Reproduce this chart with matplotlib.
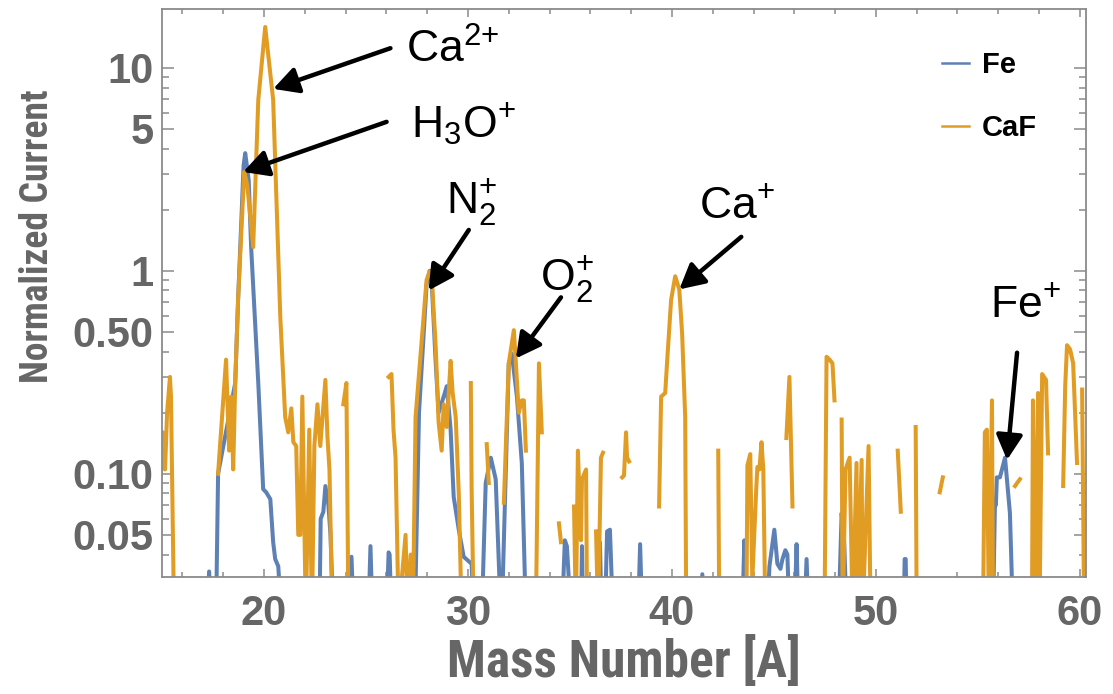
import numpy as np
import matplotlib
matplotlib.use("Agg")
import matplotlib.pyplot as plt
from matplotlib.ticker import FixedLocator, MultipleLocator, NullFormatter, LogLocator

nan = np.nan

# Fe sample trace (NaN marks gaps where the signal drops out)
fe_mass = [
    17.21, 17.31, 17.41, nan,
    17.65, 17.75, 18.59, 18.73, 19.00, 19.08, 19.25, 19.37, 19.72, 19.96, 20.11, 20.31, 20.45, 20.55, 20.70, 20.85, nan,
    22.72, 22.78, 22.91, 23.01, 23.16, 23.26, 23.40, nan,
    24.19, 24.29, 24.39, nan,
    25.12, 25.22, 25.32, nan,
    26.01, 26.11, 26.16, 26.25, nan,
    27.40, 27.60, 27.97, 28.12, 28.20, 28.42, 28.56, 28.81, 28.96, 29.15, 29.30, 29.55, 29.79, 30.18, 30.28, nan,
    30.68, 30.87, 31.12, 31.36, 31.61, nan,
    31.66, 32.00, 32.15, 32.40, 32.64, 32.84, nan,
    34.61, 34.75, 34.85, 35.05, nan,
    35.54, 35.59, 35.64, nan,
    36.38, 36.47, 36.55, nan,
    36.72, 36.82, 36.96, 37.11, nan,
    38.34, 38.44, 38.54, nan,
    41.40, 41.49, 41.60, nan,
    43.45, 43.55, 43.62, nan,
    44.68, 44.78, 45.02, 45.17, 45.32, 45.42, 45.56, 45.66, 45.76, nan,
    46.01, 46.11, 46.20, nan,
    46.50, 46.60, 46.70, nan,
    48.17, 48.32, 48.45, 48.56, nan,
    51.36, 51.41, 51.46, 51.51, nan,
    55.74, 55.84, 55.88, 55.93, 56.08, 56.33, 56.57, 56.72,
]
fe_current = [
    0.02, 0.033, 0.02, nan,
    0.02, 0.10, 0.28, 0.72, 3.3, 3.8, 2.8, 1.31, 0.28, 0.084, 0.081, 0.075, 0.046, 0.038, 0.035, 0.02, nan,
    0.02, 0.06, 0.065, 0.087, 0.07, 0.05, 0.02, nan,
    0.02, 0.039, 0.02, nan,
    0.02, 0.044, 0.02, nan,
    0.02, 0.041, 0.04, 0.02, nan,
    0.02, 0.20, 0.85, 1.0, 0.98, 0.35, 0.20, 0.24, 0.27, 0.165, 0.077, 0.053, 0.039, 0.036, 0.02, nan,
    0.02, 0.09, 0.12, 0.094, 0.02, nan,
    0.02, 0.35, 0.39, 0.24, 0.113, 0.02, nan,
    0.02, 0.047, 0.044, 0.02, nan,
    0.02, 0.044, 0.02, nan,
    0.02, 0.046, 0.02, nan,
    0.02, 0.052, 0.053, 0.02, nan,
    0.02, 0.045, 0.02, nan,
    0.02, 0.032, 0.02, nan,
    0.02, 0.047, 0.02, nan,
    0.02, 0.035, 0.053, 0.036, 0.034, 0.038, 0.042, 0.04, 0.02, nan,
    0.02, 0.045, 0.02, nan,
    0.02, 0.038, 0.02, nan,
    0.02, 0.064, 0.045, 0.02, nan,
    0.02, 0.038, 0.038, 0.02, nan,
    0.02, 0.075, 0.07, 0.096, 0.096, 0.12, 0.064, 0.02,
]

# CaF sample trace
caf_mass = [
    14.95, 15.05, 15.15, 15.25, 15.39, 15.44, 15.59, nan,
    17.75, 18.14, 18.29, 18.39, 18.49, 18.59, 18.73, 19.03, 19.18, 19.47, 19.72, 20.06, 20.45, 20.80,
    21.04, 21.19, 21.34, 21.44, 21.58, 21.68, 21.78, 21.88, 22.05, 22.22, 22.35, 22.47, 22.62, 22.76,
    23.01, 23.11, 23.21, 23.35, nan,
    23.89, 24.04, 24.14, nan,
    26.11, 26.25, 26.35, 26.45, 26.60, 26.94, 27.04, 27.19, 27.30, 27.43, 27.73, 27.97, 28.12, 28.22,
    28.42, 28.56, 28.71, 28.81, 28.96, 29.15, 29.25, 29.40, 29.55, 29.69, nan,
    30.14, 30.18, 30.28, nan,
    30.92, 31.02, nan,
    31.76, 32.00, 32.25, 32.35, 32.49, 32.64, 32.74, 32.84, nan,
    33.33, 33.48, 33.62, nan,
    34.46, 34.56, nan,
    35.20, 35.29, 35.39, 35.54, 35.59, 35.79, 35.84, nan,
    36.28, 36.38, 36.52, 36.62, nan,
    37.56, 37.65, 37.75, 37.80, 37.90, nan,
    39.37, 39.47, 39.67, 39.77, 39.96, 40.16, 40.36, 40.50, 40.65, 40.70, nan,
    42.27, 42.32, nan,
    43.65, 43.70, 43.84, 43.94, 44.14, 44.19, 44.29, 44.39, 44.48, 44.58, nan,
    45.61, 45.76, 45.91, nan,
    47.48, 47.58, 47.73, 47.87, 47.97, nan,
    48.32, 48.37, 48.51, 48.71, 48.86, 49.05, 49.10, 49.30, 49.35, 49.64, 49.74, nan,
    51.07, 51.22, nan,
    51.95, 52.00, nan,
    53.13, 53.28, nan,
    55.25, 55.34, 55.44, 55.54, 55.69, 55.74, nan,
    56.82, 56.92, 57.06, nan,
    57.65, 57.70, 57.80, 57.95, 58.02, 58.15, 58.34, 58.44, nan,
    59.18, 59.28, 59.37, 59.52, 59.67, 59.86, nan,
    60.11, 60.21,
]
caf_current = [
    0.10, 0.16, 0.105, 0.20, 0.30, 0.24, 0.02, nan,
    0.10, 0.365, 0.13, 0.24, 0.105, 0.28, 0.72, 3.07, 2.65, 1.31, 6.95, 15.9, 6.95, 0.59,
    0.19, 0.16, 0.21, 0.143, 0.137, 0.05, 0.05, 0.24, 0.02, 0.165, 0.02, 0.137, 0.22, 0.137,
    0.29, 0.153, 0.105, 0.02, nan,
    0.22, 0.28, 0.02, nan,
    0.30, 0.31, 0.165, 0.12, 0.02, 0.05, 0.02, 0.04, 0.02, 0.19, 0.45, 0.90, 0.99, 0.95,
    0.42, 0.18, 0.13, 0.22, 0.17, 0.36, 0.25, 0.19, 0.08, 0.02, nan,
    0.28, 0.084, 0.02, nan,
    0.14, 0.09, nan,
    0.072, 0.35, 0.51, 0.35, 0.20, 0.23, 0.23, 0.13, nan,
    0.02, 0.35, 0.16, nan,
    0.057, 0.046, nan,
    0.069, 0.02, 0.13, 0.047, 0.094, 0.105, 0.02, nan,
    0.052, 0.02, 0.12, 0.127, nan,
    0.096, 0.098, 0.16, 0.12, 0.115, nan,
    0.069, 0.24, 0.25, 0.365, 0.72, 0.94, 0.81, 0.49, 0.19, 0.02, nan,
    0.13, 0.02, nan,
    0.02, 0.11, 0.125, 0.03, 0.087, 0.108, 0.105, 0.143, 0.105, 0.02, nan,
    0.15, 0.30, 0.069, nan,
    0.02, 0.377, 0.365, 0.35, 0.23, nan,
    0.185, 0.02, 0.105, 0.12, 0.02, 0.113, 0.02, 0.117, 0.02, 0.137, 0.02, nan,
    0.13, 0.065, nan,
    0.17, 0.02, nan,
    0.081, 0.096, nan,
    0.02, 0.16, 0.165, 0.02, 0.23, 0.02, nan,
    0.087, 0.09, 0.094, nan,
    0.02, 0.23, 0.02, 0.25, 0.02, 0.31, 0.29, 0.126, nan,
    0.087, 0.27, 0.43, 0.41, 0.35, 0.113, nan,
    0.26, 0.02,
]

y_ticks = [0.05, 0.1, 0.5, 1, 5, 10]
y_tick_labels = ["0.05", "0.10", "0.50", "1", "5", "10"]
x_ticks = [20, 30, 40, 50, 60]

# peak labels: text anchor, arrow tail, arrow tip
ion_labels = [r"$\mathregular{Ca^{2{+}}}$", r"$\mathregular{H_3O^{{+}}}$", r"$\mathregular{N_2^{{+}}}$",
              r"$\mathregular{O_2^{{+}}}$", r"$\mathregular{Ca^{{+}}}$", r"$\mathregular{Fe^{{+}}}$"]
label_pos = [(26.94, 10.6), (27.19, 4.52), (28.91, 1.93), (33.53, 0.806), (41.34, 1.82), (55.59, 0.593)]
arrow_tail = [(26.20, 12.5), (26.01, 5.42), (30.04, 1.59), (34.56, 0.74), (43.40, 1.47), (56.92, 0.395)]
arrow_tip = [(20.45, 7.88), (18.98, 3.07), (28.07, 0.80), (32.35, 0.37), (40.36, 0.81), (56.43, 0.117)]

FE_BLUE = "#5E81B5"
CAF_ORANGE = "#E19C24"
GRAY_TEXT = "#666666"
FRAME = "#8a8a8a"
COND = ["Roboto Condensed", "Archivo Narrow", "Liberation Sans Narrow", "Liberation Sans"]

plt.rcParams["font.family"] = ["Liberation Sans", "DejaVu Sans"]
plt.rcParams["mathtext.default"] = "regular"

fig = plt.figure(figsize=(11.13, 6.94), dpi=100)
ax = fig.add_axes([162 / 1113, 117 / 694, 924 / 1113, 568 / 694])

ax.plot(fe_mass, fe_current, color=FE_BLUE, lw=2.9, label="Fe", solid_joinstyle="round")
ax.plot(caf_mass, caf_current, color=CAF_ORANGE, lw=2.9, label="CaF", solid_joinstyle="round")

ax.set_yscale("log")
ax.set_xlim(15, 60.3)
ax.set_ylim(0.031, 19.5)

ax.yaxis.set_major_locator(FixedLocator(y_ticks))
ax.set_yticklabels(y_tick_labels)
ax.yaxis.set_minor_locator(LogLocator(base=10, subs=np.arange(2, 10)))
ax.yaxis.set_minor_formatter(NullFormatter())
ax.xaxis.set_major_locator(FixedLocator(x_ticks))
ax.xaxis.set_minor_locator(MultipleLocator(2))

for side in ax.spines.values():
    side.set_color(FRAME)
    side.set_linewidth(1.3)

ax.tick_params(which="both", direction="in", top=True, right=True, color=FRAME, width=1.1)
ax.tick_params(axis="y", which="major", length=8.5, pad=6)
ax.tick_params(axis="y", which="minor", length=5)
ax.tick_params(axis="x", which="major", length=6, pad=12)
ax.tick_params(axis="x", which="minor", length=3.5)
for lab in ax.get_xticklabels() + ax.get_yticklabels():
    lab.set_fontsize(30)
    lab.set_fontweight("bold")
    lab.set_color(GRAY_TEXT)

ax.set_xlabel("Mass Number [A]", fontsize=37, fontweight="bold", color=GRAY_TEXT,
              family=COND, labelpad=2)
ax.set_ylabel("Normalized Current", fontsize=27, fontweight="bold", color=GRAY_TEXT,
              family=COND)
ax.yaxis.set_label_coords(-0.115, 0.60)

for text, pos, tail, tip in zip(ion_labels, label_pos, arrow_tail, arrow_tip):
    ax.text(pos[0], pos[1], text, fontsize=32, color="black", ha="left", va="baseline")
    ax.annotate("", xy=tip, xytext=tail,
                arrowprops=dict(arrowstyle="-|>,head_length=0.6,head_width=0.32",
                                mutation_scale=25, color="black", lw=3.2,
                                shrinkA=0, shrinkB=0))

leg = ax.legend(loc="upper left", bbox_to_anchor=(0.832, 0.947), frameon=False,
                prop={"size": 21, "weight": "bold"}, handlelength=0.9, handletextpad=0.45,
                labelspacing=1.2, borderaxespad=0)
for line in leg.get_lines():
    line.set_linewidth(1.8)

fig.savefig("out.png", dpi=100)
